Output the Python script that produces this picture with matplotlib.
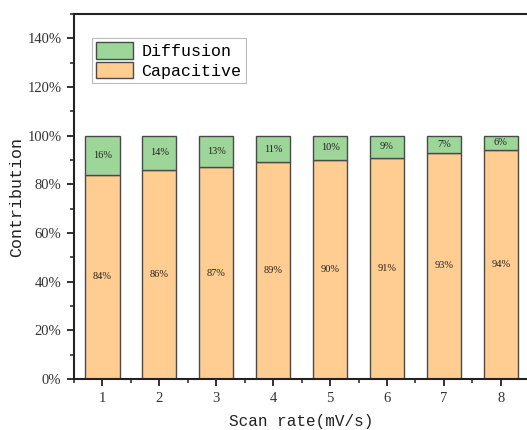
import matplotlib
matplotlib.use("Agg")
import matplotlib.pyplot as plt
from matplotlib.ticker import MultipleLocator, FuncFormatter
from matplotlib.patches import Patch

scan_rates = [1, 2, 3, 4, 5, 6, 7, 8]
capacitive = [84, 86, 87, 89, 90, 91, 93, 94]
diffusion = [16, 14, 13, 11, 10, 9, 7, 6]

cap_color = "#FFCC92"
dif_color = "#9ED69A"
edge = "#4a4a4a"
mono = "Liberation Mono"
serif = "Liberation Serif"

fig = plt.figure(figsize=(5.27, 4.30), dpi=100)
ax = fig.add_axes([0.1404, 0.1186, 0.864, 0.8488])

w = 0.6
ax.bar(scan_rates, capacitive, width=w, color=cap_color, edgecolor=edge, linewidth=1.0, zorder=2)
ax.bar(scan_rates, diffusion, width=w, bottom=capacitive, color=dif_color, edgecolor=edge, linewidth=1.0, zorder=2)

for x, c, d in zip(scan_rates, capacitive, diffusion):
    ax.text(x, c / 2, f"{c}%", ha="center", va="center", fontsize=7.5, family=serif, color="#222222")
    ax.text(x, c + d / 2, f"{d}%", ha="center", va="center", fontsize=7.5, family=serif, color="#222222")

ax.set_xlim(0.5, 8.5)
ax.set_ylim(0, 150)
ax.set_xticks(scan_rates)
ax.xaxis.set_minor_locator(MultipleLocator(0.5))
ax.yaxis.set_major_locator(MultipleLocator(20))
ax.yaxis.set_minor_locator(MultipleLocator(10))
ax.yaxis.set_major_formatter(FuncFormatter(lambda v, p: f"{int(v)}%"))

for lab in ax.get_xticklabels() + ax.get_yticklabels():
    lab.set_family(serif)
    lab.set_fontsize(10.5)
    lab.set_color("#333333")

ax.tick_params(which="major", direction="out", length=5, width=1.3, color="#222222", pad=4)
ax.tick_params(which="minor", direction="out", length=3, width=1.1, color="#222222")
ax.tick_params(top=False, right=False, which="both")

for s in ax.spines.values():
    s.set_linewidth(1.5)
    s.set_color("#222222")

ax.set_xlabel("Scan rate(mV/s)", family=mono, fontsize=11.5, color="#222222", labelpad=7)
ax.set_ylabel("Contribution", family=mono, fontsize=12, color="#222222", labelpad=2)

handles = [Patch(facecolor=dif_color, edgecolor=edge, linewidth=1.0, label="Diffusion"),
           Patch(facecolor=cap_color, edgecolor=edge, linewidth=1.0, label="Capacitive")]
leg = ax.legend(handles=handles, loc="upper left", bbox_to_anchor=(0.04, 0.934),
                prop={"family": mono, "size": 12}, frameon=True, fancybox=False,
                edgecolor="#aaaaaa", borderpad=0.25, labelspacing=0.15,
                handlelength=2.2, handleheight=1.15, handletextpad=0.5, borderaxespad=0)
leg.get_frame().set_linewidth(0.8)

fig.savefig("out.png", dpi=100)
